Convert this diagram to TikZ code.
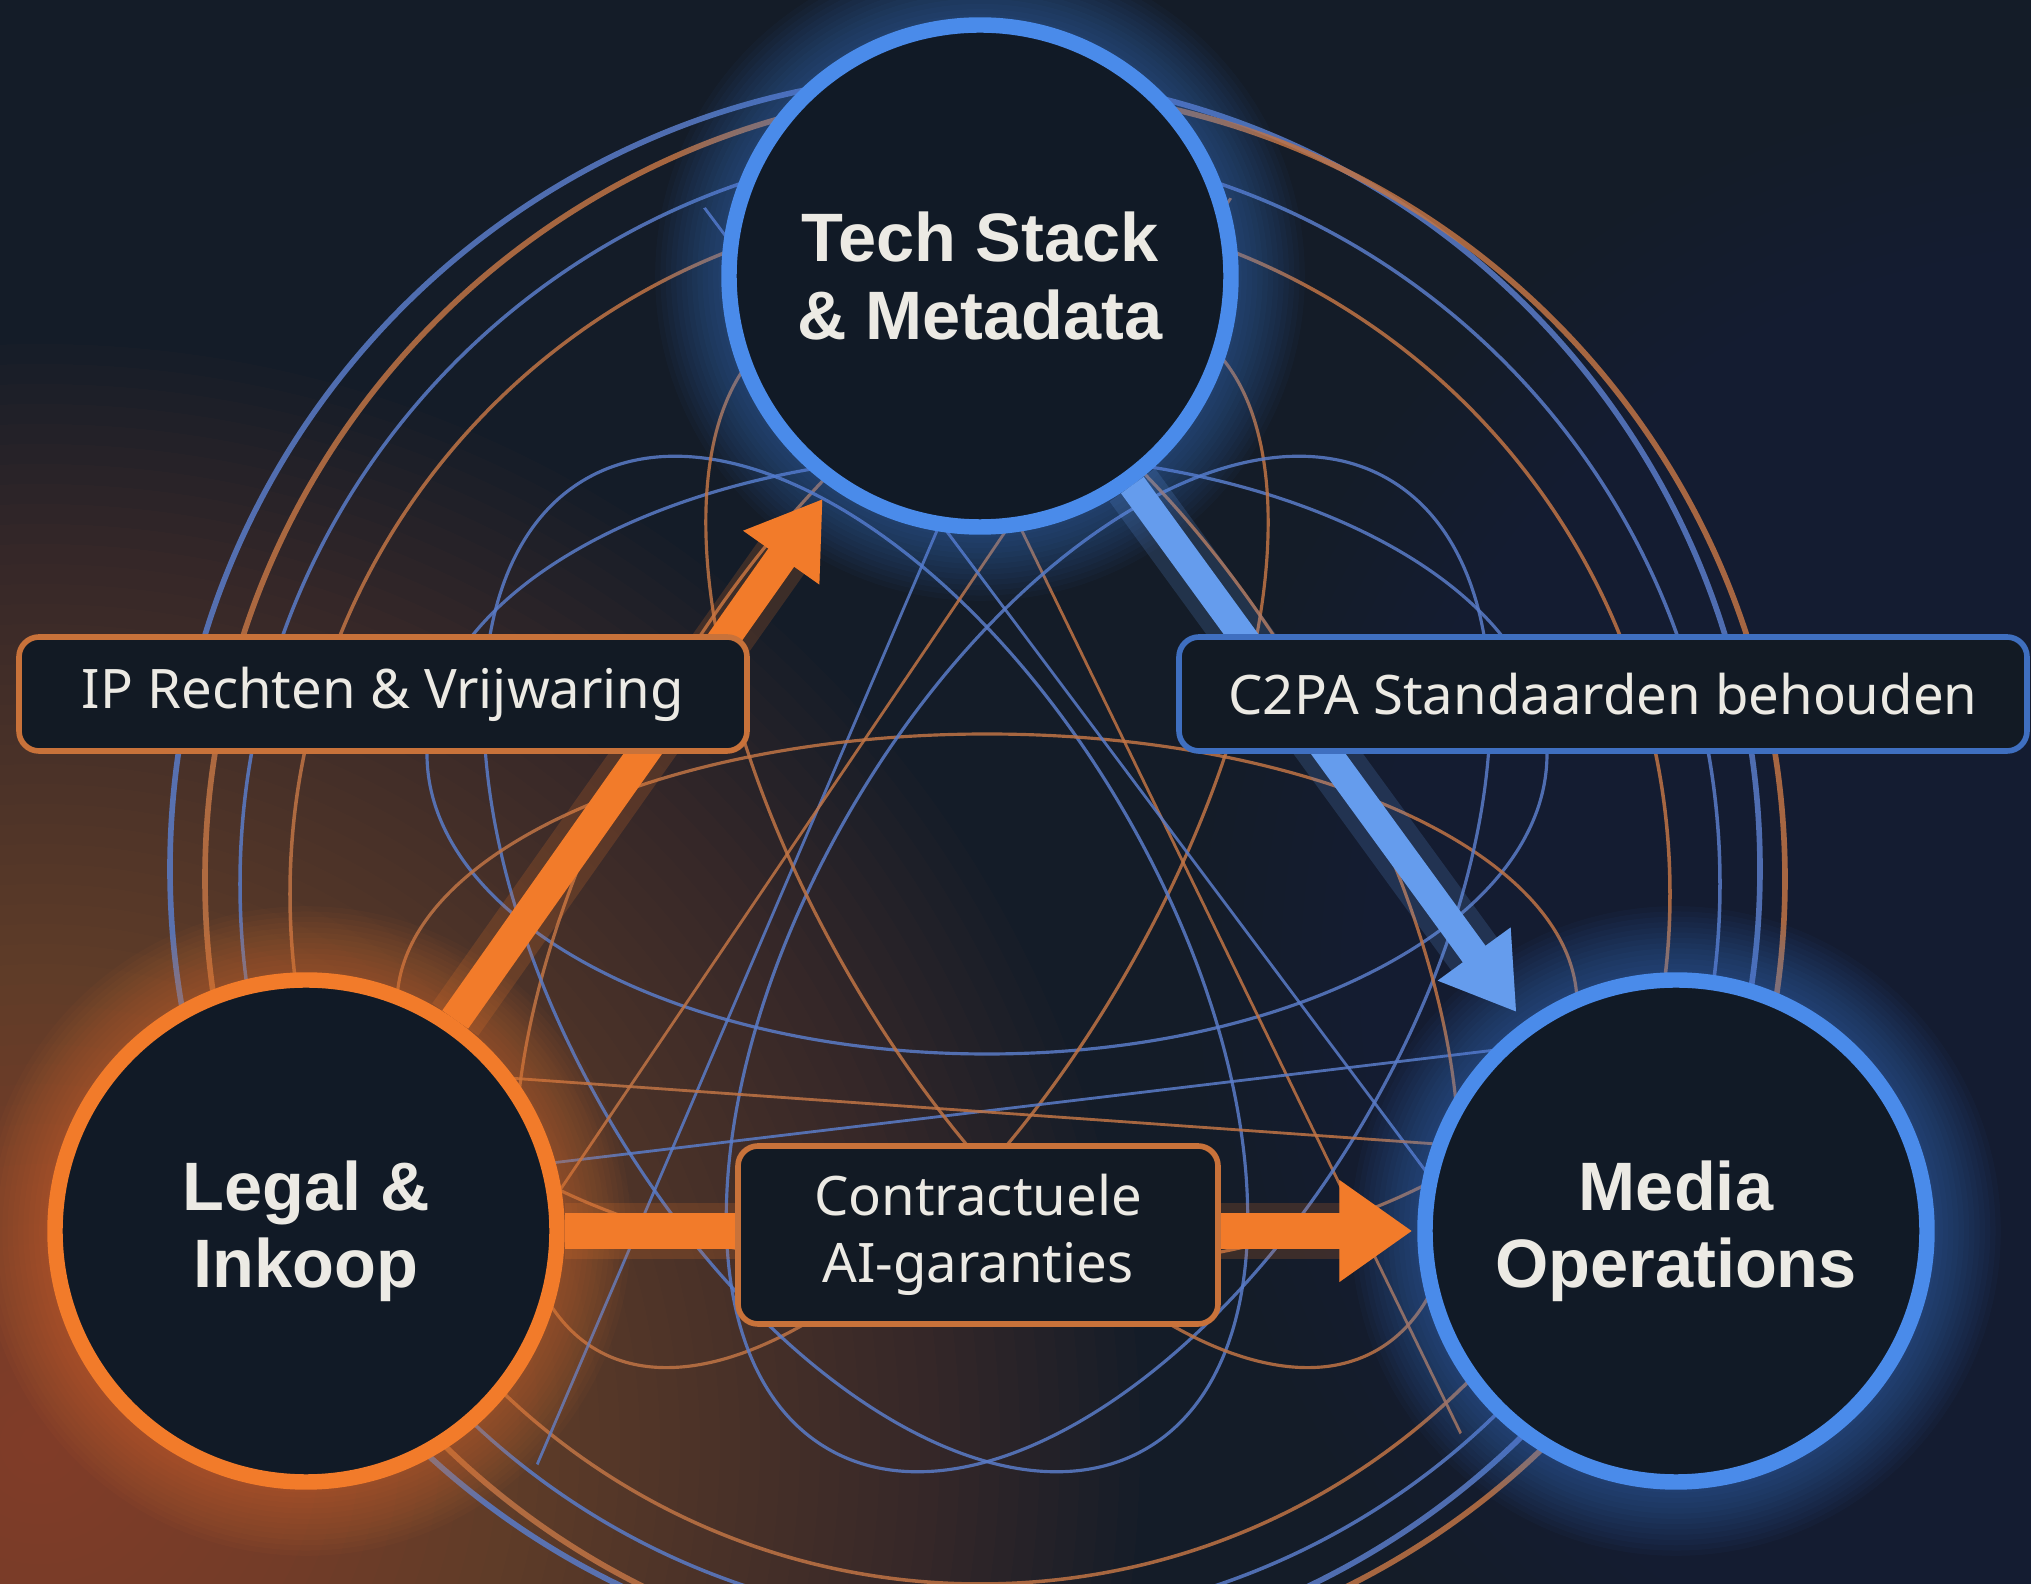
\documentclass[tikz,border=0pt]{standalone}
\usepackage{fontspec}
\setmainfont{Noto Sans}
\newfontfamily\hubfont{Liberation Sans}
\usetikzlibrary{arrows.meta}

\definecolor{bgC}{HTML}{141C28}
\definecolor{hubFill}{HTML}{111A26}
\definecolor{tagFill}{HTML}{121A24}
\definecolor{textC}{HTML}{ECEAE4}
\definecolor{orangeC}{HTML}{F27B2A}
\definecolor{blueC}{HTML}{4A8BEA}
\definecolor{blueG}{HTML}{2F63B0}
\definecolor{orangeL}{HTML}{C07445}
\definecolor{blueL}{HTML}{5A7CC8}
\definecolor{orangeB}{HTML}{C8723A}
\definecolor{blueB}{HTML}{3F6FC0}

\tikzset{
  hub/.style={circle, draw=#1, line width=4.4pt, fill=hubFill, minimum size=5.02cm,
    inner sep=0pt, text=textC, align=center, font=\hubfont\bfseries\fontsize{19.5}{22}\selectfont},
  tag/.style={rectangle, rounded corners=0.2cm, draw=#1, line width=1.6pt, fill=tagFill,
    text=textC, align=center, minimum height=1.14cm, font=\fontsize{15.5}{19}\selectfont},
  web/.style={line width=#1, opacity=0.85},
  glowring/.style={#1, opacity=0.035},
  flow/.style={#1, preaction={draw, #1, opacity=0.18, line width=16pt}}
}

\begin{document}
\begin{tikzpicture}
  \useasboundingbox (0,0) rectangle (20.31,15.84);
  \clip (0,0) rectangle (20.31,15.84);
  \fill[bgC] (0,0) rectangle (20.31,15.84);

  % background glows
  \foreach \r in {0.2,0.4,...,11}
    \fill[orangeC, opacity=0.014] (0.4,1.4) circle (\r);
  \foreach \r in {0.2,0.4,...,9}
    \fill[blueG, opacity=0.008] (21.0,6.0) circle (\r);

  \coordinate (tpos) at (9.80,13.08);
  \coordinate (lpos) at (3.06,3.53);
  \coordinate (mpos) at (16.76,3.53);

  % thin lines behind the hubs
  \draw[web=1.6pt, blueL] (9.65,7.15) circle (7.95);
  \draw[web=1.6pt, orangeL] (9.95,7.05) circle (7.9);
  \draw[web=1pt, blueL] (9.8,7.0) circle (7.4);
  \draw[web=1pt, orangeL] (9.8,6.9) circle (6.9);
  \begin{scope}
    \clip (9.8,7.0) circle (7.3);
    \foreach \a in {0,120,240} {
      \draw[web=0.9pt, blueL, rotate around={\a:(9.87,6.9)}] (9.87,8.3) ellipse (5.6 and 3.0);
      \draw[web=0.9pt, orangeL, rotate around={\a+60:(9.87,6.9)}] (9.87,8.0) ellipse (5.9 and 2.7);
      \draw[web=0.8pt, blueL, rotate around={\a:(9.87,6.71)}] (10.46,13.08) -- (4.86,0);
      \draw[web=0.8pt, orangeL, rotate around={\a:(9.87,6.71)}] (8.98,13.08) -- (15.34,0);
    }
  \end{scope}

  % glow round the hubs
  \foreach \w in {3,6,...,42} {
    \draw[glowring=blueC, line width=\w pt] (tpos) circle (2.51);
    \draw[glowring=orangeC, line width=\w pt] (lpos) circle (2.51);
    \draw[glowring=blueC, line width=\w pt] (mpos) circle (2.51);
  }

  \node[hub=blueC] (tech) at (tpos) {Tech Stack\\\& Metadata};
  \node[hub=orangeC] (legal) at (lpos) {Legal \&\\Inkoop};
  \node[hub=blueC] (media) at (mpos) {Media\\Operations};

  \draw[flow=orangeC, -{Triangle[length=0.72cm,width=0.88cm]}, line width=9pt, shorten >=0.14cm] (legal) -- (tech);
  \draw[flow=blueC!85!white, -{Triangle[length=0.72cm,width=0.85cm]}, line width=8pt, shorten >=0.12cm] (tech) -- (media);
  \draw[flow=orangeC, -{Triangle[length=0.73cm,width=0.97cm]}, line width=10pt, shorten >=0.05cm] (legal) -- (media);

  \node[tag=orangeB, minimum width=7.28cm] (iprights) at (3.83,8.90) {IP Rechten \& Vrijwaring};
  \node[tag=blueB, minimum width=8.48cm] (c2pa) at (16.03,8.90) {C2PA Standaarden behouden};
  \node[tag=orangeB, minimum width=4.80cm, minimum height=1.78cm] (aiterms) at (9.78,3.49) {Contractuele\\AI-garanties};
\end{tikzpicture}
\end{document}
